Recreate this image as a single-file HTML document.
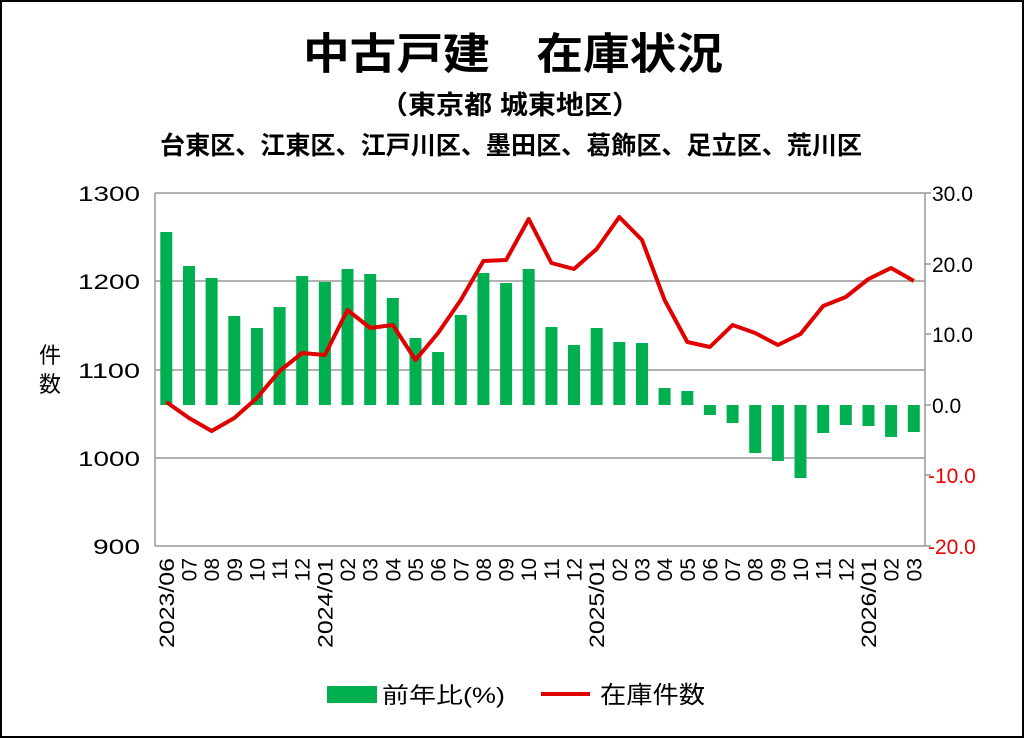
<!DOCTYPE html>
<html><head><meta charset="utf-8"><style>
body{margin:0;background:#fff}
svg{display:block;font-family:"Liberation Sans","Noto Sans CJK JP",sans-serif}
</style></head><body>
<svg width="1024" height="738" viewBox="0 0 1024 738">
<rect x="1" y="1" width="1022" height="736" fill="#fff" stroke="#000" stroke-width="2"/>
<text x="303" y="69" font-size="43" font-weight="bold" textLength="420" lengthAdjust="spacingAndGlyphs">中古戸建　在庫状況</text>
<text x="380" y="114" font-size="26" font-weight="bold" textLength="260" lengthAdjust="spacingAndGlyphs">（東京都 城東地区）</text>
<text x="160" y="154" font-size="25" font-weight="bold" textLength="702" lengthAdjust="spacingAndGlyphs">台東区、江東区、江戸川区、墨田区、葛飾区、足立区、荒川区</text>
<g stroke="#999" stroke-width="1.5">
<line x1="155" y1="193" x2="925" y2="193"/><line x1="155" y1="281" x2="925" y2="281"/>
<line x1="155" y1="370" x2="925" y2="370"/><line x1="155" y1="458" x2="925" y2="458"/>
<line x1="155" y1="546" x2="925" y2="546"/><line x1="155" y1="193" x2="155" y2="546"/>
<line x1="925" y1="193" x2="925" y2="546"/>
<line x1="925" y1="193" x2="931" y2="193"/><line x1="925" y1="264" x2="931" y2="264"/><line x1="925" y1="334" x2="931" y2="334"/><line x1="925" y1="405" x2="931" y2="405"/><line x1="925" y1="475" x2="931" y2="475"/><line x1="925" y1="546" x2="931" y2="546"/>
</g>
<g font-size="21" text-anchor="end">
<text x="140" y="201" textLength="62" lengthAdjust="spacingAndGlyphs">1300</text><text x="140" y="289" textLength="62" lengthAdjust="spacingAndGlyphs">1200</text><text x="140" y="378" textLength="62" lengthAdjust="spacingAndGlyphs">1100</text><text x="140" y="466" textLength="62" lengthAdjust="spacingAndGlyphs">1000</text><text x="140" y="554" textLength="47" lengthAdjust="spacingAndGlyphs">900</text>
</g>
<g font-size="21">
<text x="932" y="201">30.0</text><text x="932" y="272">20.0</text><text x="932" y="342">10.0</text><text x="932" y="413">0.0</text>
<text x="928" y="483" fill="#e00">-10.0</text><text x="928" y="554" fill="#e00">-20.0</text>
</g>
<text x="50" y="363" font-size="22" text-anchor="middle">件</text>
<text x="50" y="392" font-size="22" text-anchor="middle">数</text>
<g fill="#00b050">
<rect x="160.3" y="232" width="12" height="173"/>
<rect x="183" y="266" width="12" height="139"/>
<rect x="205.6" y="278" width="12" height="127"/>
<rect x="228.3" y="316" width="12" height="89"/>
<rect x="250.9" y="328" width="12" height="77"/>
<rect x="273.6" y="307" width="12" height="98"/>
<rect x="296.2" y="276" width="12" height="129"/>
<rect x="318.9" y="282" width="12" height="123"/>
<rect x="341.5" y="269" width="12" height="136"/>
<rect x="364.2" y="274" width="12" height="131"/>
<rect x="386.8" y="298" width="12" height="107"/>
<rect x="409.5" y="338" width="12" height="67"/>
<rect x="432.1" y="352" width="12" height="53"/>
<rect x="454.8" y="315" width="12" height="90"/>
<rect x="477.4" y="273" width="12" height="132"/>
<rect x="500.1" y="283" width="12" height="122"/>
<rect x="522.7" y="269" width="12" height="136"/>
<rect x="545.4" y="327" width="12" height="78"/>
<rect x="568" y="345" width="12" height="60"/>
<rect x="590.7" y="328" width="12" height="77"/>
<rect x="613.3" y="342" width="12" height="63"/>
<rect x="636" y="343" width="12" height="62"/>
<rect x="658.6" y="388" width="12" height="17"/>
<rect x="681.3" y="391" width="12" height="14"/>
<rect x="703.9" y="405" width="12" height="10"/>
<rect x="726.6" y="405" width="12" height="18"/>
<rect x="749.2" y="405" width="12" height="48"/>
<rect x="771.9" y="405" width="12" height="56"/>
<rect x="794.5" y="405" width="12" height="73"/>
<rect x="817.2" y="405" width="12" height="28"/>
<rect x="839.8" y="405" width="12" height="20"/>
<rect x="862.5" y="405" width="12" height="21"/>
<rect x="885.1" y="405" width="12" height="32"/>
<rect x="907.8" y="405" width="12" height="27"/>
</g>
<polyline fill="none" stroke="#e00000" stroke-width="4" stroke-linejoin="round" points="166.3,402 189,418 211.6,431 234.3,418 256.9,398 279.6,371 302.2,353 324.9,355 347.5,310 370.2,328 392.8,325 415.5,360 438.1,333 460.8,300 483.4,261 506.1,260 528.7,219 551.4,263 574,269 596.7,249 619.3,217 642,240 664.6,300 687.3,342 709.9,347 732.6,325 755.2,333 777.9,345 800.5,334 823.2,306 845.8,297 868.5,279 891.1,268 913.8,281"/>
<g font-size="21" text-anchor="end">
<text transform="translate(173.8,558) rotate(-90)" textLength="90" lengthAdjust="spacingAndGlyphs">2023/06</text>
<text transform="translate(196.5,558) rotate(-90)">07</text>
<text transform="translate(219.1,558) rotate(-90)">08</text>
<text transform="translate(241.8,558) rotate(-90)">09</text>
<text transform="translate(264.4,558) rotate(-90)">10</text>
<text transform="translate(287.1,558) rotate(-90)">11</text>
<text transform="translate(309.7,558) rotate(-90)">12</text>
<text transform="translate(332.4,558) rotate(-90)" textLength="90" lengthAdjust="spacingAndGlyphs">2024/01</text>
<text transform="translate(355,558) rotate(-90)">02</text>
<text transform="translate(377.7,558) rotate(-90)">03</text>
<text transform="translate(400.3,558) rotate(-90)">04</text>
<text transform="translate(423,558) rotate(-90)">05</text>
<text transform="translate(445.6,558) rotate(-90)">06</text>
<text transform="translate(468.3,558) rotate(-90)">07</text>
<text transform="translate(490.9,558) rotate(-90)">08</text>
<text transform="translate(513.6,558) rotate(-90)">09</text>
<text transform="translate(536.2,558) rotate(-90)">10</text>
<text transform="translate(558.9,558) rotate(-90)">11</text>
<text transform="translate(581.5,558) rotate(-90)">12</text>
<text transform="translate(604.2,558) rotate(-90)" textLength="90" lengthAdjust="spacingAndGlyphs">2025/01</text>
<text transform="translate(626.8,558) rotate(-90)">02</text>
<text transform="translate(649.5,558) rotate(-90)">03</text>
<text transform="translate(672.1,558) rotate(-90)">04</text>
<text transform="translate(694.8,558) rotate(-90)">05</text>
<text transform="translate(717.4,558) rotate(-90)">06</text>
<text transform="translate(740.1,558) rotate(-90)">07</text>
<text transform="translate(762.7,558) rotate(-90)">08</text>
<text transform="translate(785.4,558) rotate(-90)">09</text>
<text transform="translate(808,558) rotate(-90)">10</text>
<text transform="translate(830.7,558) rotate(-90)">11</text>
<text transform="translate(853.3,558) rotate(-90)">12</text>
<text transform="translate(876,558) rotate(-90)" textLength="90" lengthAdjust="spacingAndGlyphs">2026/01</text>
<text transform="translate(898.6,558) rotate(-90)">02</text>
<text transform="translate(921.3,558) rotate(-90)">03</text>
</g>
<rect x="327" y="686" width="50" height="17" fill="#00b050"/>
<text x="382" y="703" font-size="22" textLength="123" lengthAdjust="spacingAndGlyphs">前年比(%)</text>
<line x1="541" y1="694" x2="590" y2="694" stroke="#e00000" stroke-width="4"/>
<text x="600" y="703" font-size="24" textLength="105" lengthAdjust="spacingAndGlyphs">在庫件数</text>
</svg>
</body></html>
